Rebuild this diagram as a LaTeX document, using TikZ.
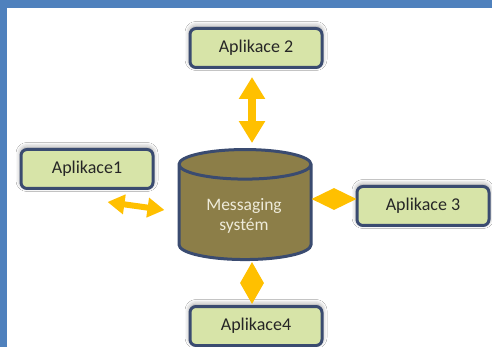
\documentclass[tikz,border=0pt]{standalone}
\usepackage{fontspec}
\setmainfont{Carlito}
\usetikzlibrary{shapes.geometric,arrows.meta,shadows.blur}
\definecolor{framecol}{HTML}{4F81BD}
\definecolor{boxfill}{HTML}{D7E4A8}
\definecolor{boxline}{HTML}{3A4B70}
\definecolor{storefill}{HTML}{8C7E48}
\definecolor{storetext}{HTML}{EEEBDA}
\definecolor{arrowcol}{HTML}{FFC000}
\tikzset{
  appbox/.style={draw=boxline, line width=3pt, fill=boxfill, rounded corners=6pt,
    minimum width=132pt, minimum height=39pt, text=black!85,
    font=\fontsize{18}{21}\selectfont,
    blur shadow={shadow xshift=0pt, shadow yshift=2pt, shadow blur radius=5pt, shadow opacity=45}},
  store/.style={cylinder, shape border rotate=90, aspect=0.36, draw=boxline,
    line width=3pt, fill=storefill, minimum width=132pt, minimum height=110pt,
    align=center, font=\fontsize{17.5}{21}\selectfont},
  storelabel/.style={align=center, text=storetext, font=\fontsize{17.5}{21}\selectfont},
  dblarrow/.style={draw=arrowcol, line width=8pt,
    {Triangle[width=25pt,length=22pt]}-{Triangle[width=25pt,length=22pt]}},
  thinarrow/.style={draw=arrowcol, line width=6pt,
    {Triangle[width=19pt,length=17pt]}-{Triangle[width=19pt,length=17pt]}},
  diamondlink/.style={diamond, fill=arrowcol, inner sep=0pt},
}
\begin{document}
\begin{tikzpicture}[x=1pt,y=-1pt]
  \useasboundingbox (0,0) rectangle (492,347);
  % frame
  \fill[white] (0,0) rectangle (492,347);
  \fill[framecol] (0,0) rectangle (492,8);
  \fill[framecol] (0,0) rectangle (7,347);

  \node[store] (ms) at (245,215) {\phantom{Messaging}\\[-1pt]\phantom{systém}};
  \node[storelabel] (mslabel) at (244,216) {Messaging\\[-1pt]systém};
  \node[appbox] (app2) at (256,48) {Aplikace 2};
  \node[appbox] (app1) at (87,169) {Aplikace1};
  \node[appbox] (app3) at (423,206) {Aplikace 3};
  \node[appbox] (app4) at (256,326) {Aplikace4};

  \draw[dblarrow] ([xshift=-4pt,yshift=-8pt]app2.south) -- ([xshift=7pt,yshift=5pt]ms.north);
  \draw[thinarrow] ([xshift=-47pt,yshift=-12pt]app1.south east) -- ([xshift=-13pt,yshift=5pt]ms.west);
  \path ([yshift=16pt]ms.east) -- ([yshift=7pt]app3.west)
    node[diamondlink, midway, minimum width=45pt, minimum height=22pt] (d3) {};
  \path ([xshift=7pt]ms.south) -- ([xshift=-4pt]app4.north)
    node[diamondlink, midway, minimum width=24pt, minimum height=42pt] (d4) {};
\end{tikzpicture}
\end{document}
